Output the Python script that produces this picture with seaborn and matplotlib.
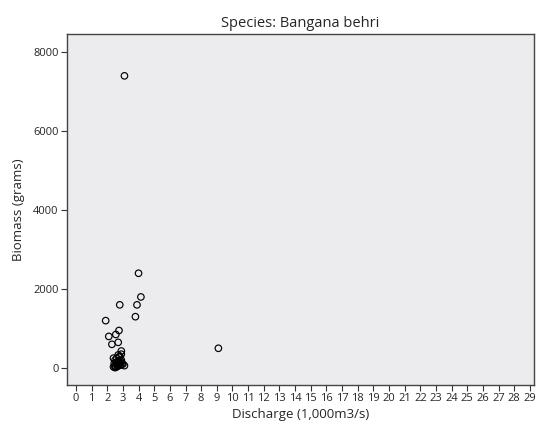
import pandas as pd
import seaborn as sns
import matplotlib.pyplot as plt

# Discharge (1,000 m3/s) and biomass (g)
discharge = [3.1, 4.0, 4.15, 3.9, 2.8, 3.8, 1.9, 9.1,
             2.75, 2.55, 2.1, 2.3, 2.7, 2.9,
             2.4, 2.5, 2.6, 2.7, 2.8, 2.9, 3.0, 2.5, 2.6, 2.7, 2.8, 2.9,
             2.4, 2.55, 2.65, 2.75, 2.85, 2.95, 2.6, 2.7, 2.8, 2.5, 2.9, 3.1, 2.45]
biomass = [7400, 2400, 1800, 1600, 1600, 1300, 1200, 500,
           950, 850, 800, 600, 650, 430,
           250, 200, 150, 180, 300, 350, 100, 50, 80, 60, 120, 200,
           30, 20, 40, 90, 70, 110, 250, 330, 280, 10, 150, 60, 120]
x_ticks = list(range(0, 30))
y_ticks = [0, 2000, 4000, 6000, 8000]

df = pd.DataFrame({"Discharge": discharge, "Biomass": biomass})

sns.set_style("ticks")
plt.rcParams['font.family'] = ['Open Sans', 'DejaVu Sans']

fig = plt.figure(figsize=(5.39, 4.36), dpi=100)
ax = fig.add_axes([0.1243, 0.117, 0.8664, 0.805])
ax.set_facecolor("#ececee")

sns.scatterplot(data=df, x="Discharge", y="Biomass", ax=ax,
                marker="o", s=22, facecolor="none", edgecolor="black", linewidth=0.85)

ax.set_xlim(-0.57, 29.26)
ax.set_ylim(-430, 8460)
ax.set_xticks(x_ticks)
ax.set_yticks(y_ticks)
ax.tick_params(axis="both", labelsize=8, length=4, width=0.8, color="#333333", pad=2)
for s in ax.spines.values():
    s.set_color("#444444")
    s.set_linewidth(1.0)

ax.set_xlabel("Discharge (1,000m3/s)", fontsize=9.5, labelpad=3)
ax.set_ylabel("Biomass (grams)", fontsize=9.5, labelpad=6)
ax.set_title("Species: Bangana behri", fontsize=10.5, pad=5)

fig.savefig("out.png", dpi=100)
